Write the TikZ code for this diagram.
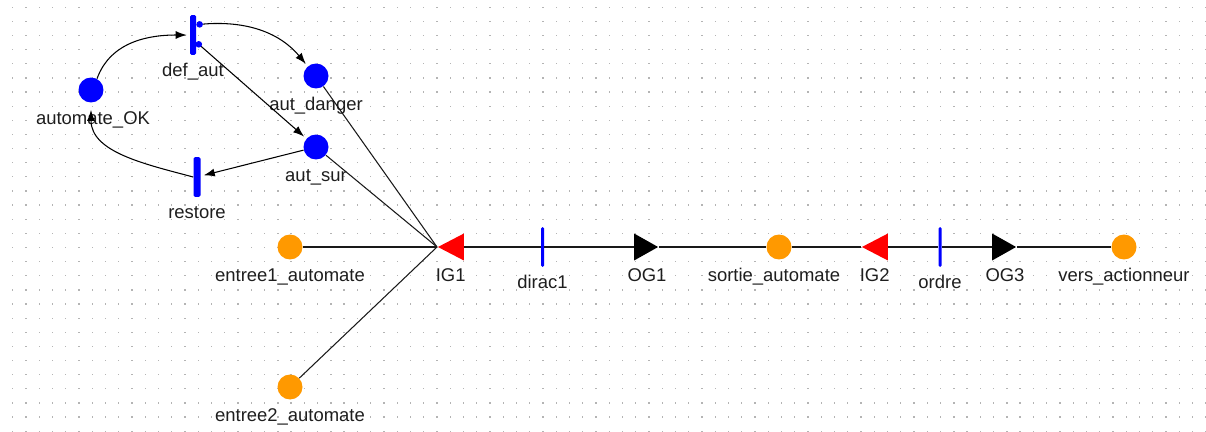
\documentclass[tikz,border=0pt]{standalone}
\usepackage{fontspec}
\setmainfont{Liberation Sans}
\usetikzlibrary{arrows.meta,shapes.geometric}
\definecolor{netBlue}{HTML}{0000FF}
\definecolor{netOrange}{HTML}{FF9900}
\definecolor{netRed}{HTML}{FF0000}
\definecolor{gridGray}{HTML}{B4B4B4}
\definecolor{labelGray}{HTML}{1E1E1E}

\begin{document}
\begin{tikzpicture}[
  x=0.02cm, y=-0.02cm,
  font=\fontsize{10.5}{12}\selectfont,
  lbl/.style={anchor=base, inner sep=0pt, text=labelGray},
  plbl/.style={lbl, yshift=-0.44cm},
  blbl/.style={lbl, yshift=-0.42cm},
  ilbl/.style={lbl, yshift=-0.5cm, xshift=-0.1cm},
  olbl/.style={lbl, yshift=-0.5cm, xshift=0.1cm},
  place/.style={circle, fill=#1, minimum size=0.5cm, inner sep=0pt},
  place/.default=netBlue,
  bar/.style={rectangle, fill=netBlue, minimum width=#1, minimum height=0.8cm, inner sep=0pt, rounded corners=0.03cm},
  ingate/.style={isosceles triangle, isosceles triangle stretches, shape border rotate=180, fill=netRed, minimum width=0.54cm, minimum height=0.52cm, inner sep=0pt, anchor=apex},
  outgate/.style={isosceles triangle, isosceles triangle stretches, fill=black, minimum width=0.54cm, minimum height=0.48cm, inner sep=0pt, anchor=apex},
  arc/.style={draw=black, line width=0.6pt, -{Latex[length=0.22cm,width=0.16cm]}, shorten >=0.06cm},
  outarc/.style={arc, {Circle[length=0.13cm,color=netBlue]}-{Latex[length=0.22cm,width=0.16cm]}},
  link/.style={draw=black!90, line width=0.6pt}
]
\useasboundingbox (0,0) rectangle (1206,432);
% dotted grid
\foreach \i in {0,...,90} {
  \foreach \j in {0,...,30} {
    \fill[gridGray] (12.1+\i*13.255,6.6+\j*14.133) rectangle +(1.3,1.3);
  }
}

% upper net
\node[place, label={[plbl, xshift=0.04cm]below:automate\_OK}] (automateOK) at (91,90) {};
\node[bar=0.12cm, label={[blbl]below:def\_aut}] (defAut) at (193,35) {};
\node[place, label={[plbl]below:aut\_danger}] (autDanger) at (316,76) {};
\node[place, label={[plbl]below:aut\_sur}] (autSur) at (316,147) {};
\node[bar=0.14cm, label={[blbl]below:restore}] (restore) at (197,177) {};

% lower chain
\node[place=netOrange, label={[plbl]below:entree1\_automate}] (entree1) at (290,247) {};
\node[place=netOrange, label={[plbl]below:entree2\_automate}] (entree2) at (290,387) {};
\node[ingate, label={[ilbl]below:IG1}] (IG1) at (437,247) {};
\node[bar=0.06cm, label={[blbl]below:dirac1}] (dirac1) at (542.5,247) {};
\node[outgate, label={[olbl]below:OG1}] (OG1) at (659,247) {};
\node[place=netOrange, label={[plbl, xshift=-0.1cm]below:sortie\_automate}] (sortie) at (779,247) {};
\node[ingate, label={[ilbl]below:IG2}] (IG2) at (861,247) {};
\node[bar=0.06cm, label={[blbl]below:ordre}] (ordre) at (940,247) {};
\node[outgate, label={[olbl]below:OG3}] (OG3) at (1017,247) {};
\node[place=netOrange, label={[plbl]below:vers\_actionneur}] (versAct) at (1124,247) {};

% arcs
\draw[arc] (automateOK.62) to[out=70, in=180] (defAut);
\draw[outarc] (defAut.72) to[out=5, in=130] (autDanger);
\draw[outarc] (defAut.-65) -- (autSur);
\draw[arc] (autSur) -- (restore);
\draw[arc, shorten >=0.14cm] (restore.west) to[out=165, in=-90] (automateOK);

\draw[link] (autDanger) -- (IG1.apex);
\draw[link] (autSur) -- (IG1.apex);
\draw[link] (entree1) -- (IG1.apex);
\draw[link] (entree2) -- (IG1.apex);
\draw[link] (IG1) -- (dirac1) -- (OG1) -- (sortie) -- (IG2) -- (ordre) -- (OG3) -- (versAct);
\end{tikzpicture}
\end{document}
